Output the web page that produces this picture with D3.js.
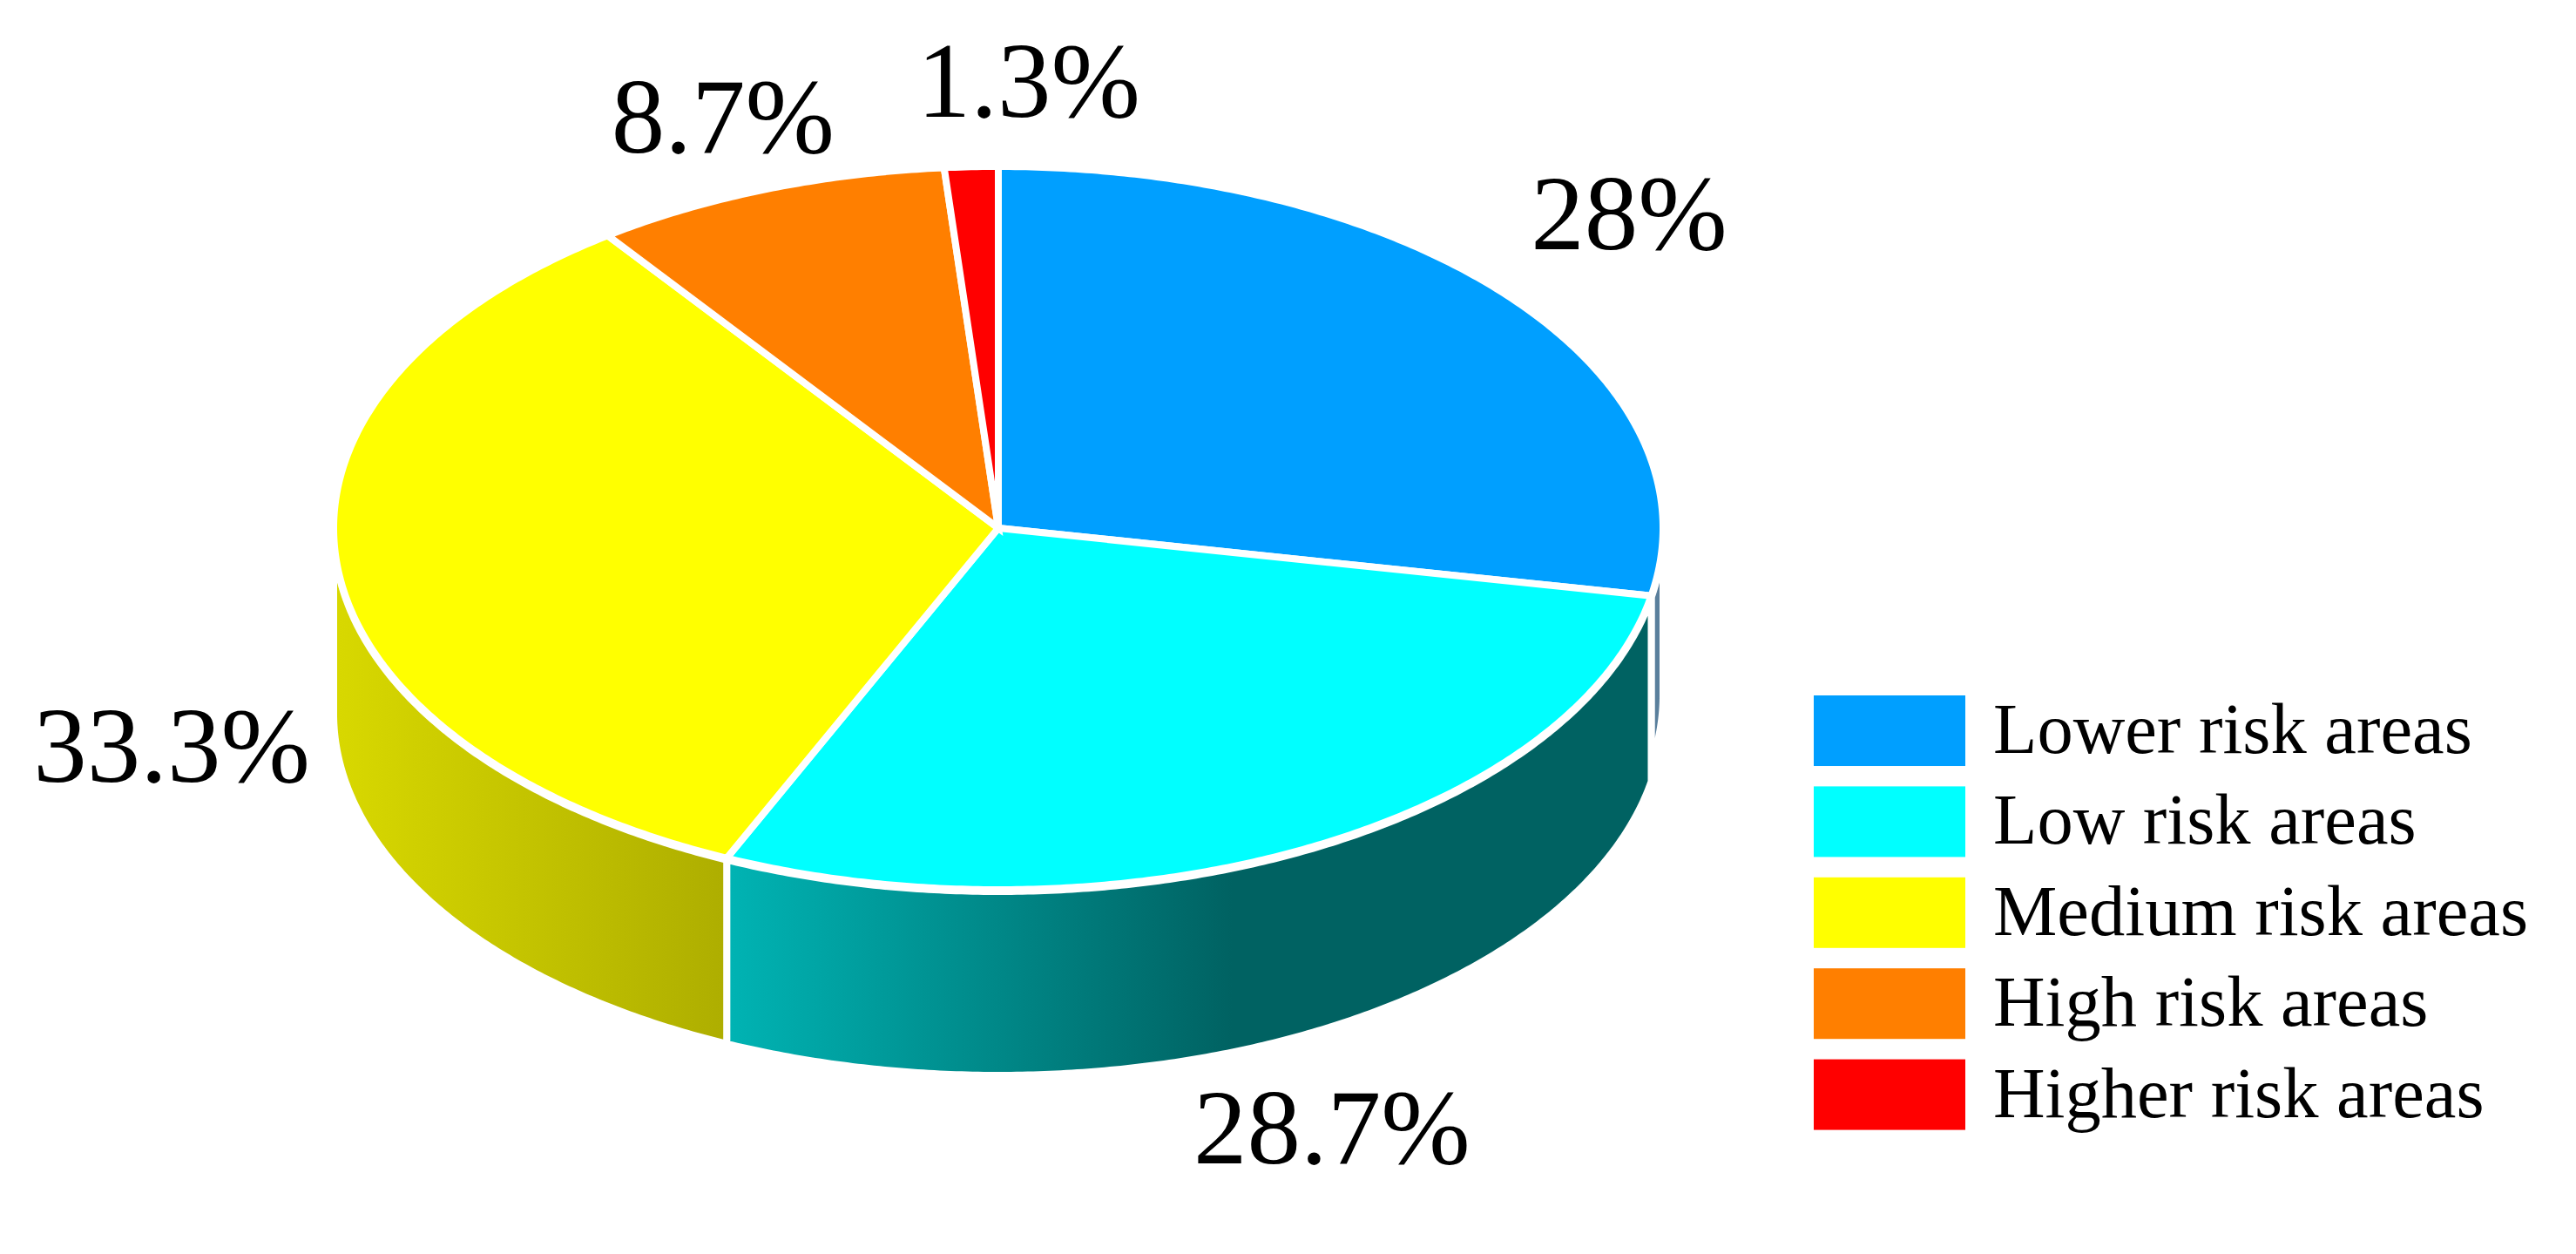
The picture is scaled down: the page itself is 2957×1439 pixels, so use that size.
<!DOCTYPE html>
<html>
<head>
<meta charset="utf-8">
<title>Risk areas</title>
<script src="https://cdn.jsdelivr.net/npm/d3@7"></script>
<style>
    body { margin: 0; background: #fff; }
    text { font-family: "Liberation Serif", serif; fill: #000; }
</style>
</head>
<body>
<div id="chart"></div>
<script>
const categories = ["Lower risk areas", "Low risk areas", "Medium risk areas", "High risk areas", "Higher risk areas"];
const shares = [28, 28.7, 33.3, 8.7, 1.3];
const shareLabels = ["28%", "28.7%", "33.3%", "8.7%", "1.3%"];
const colors = ["#009fff", "#00ffff", "#ffff00", "#ff7f00", "#ff0000"];

const width = 2957, height = 1439;
const pie3d = {cx: 1146, cy: 606, rx: 763, ry: 415, wallGap: 2};
const wallDepth = [190, 211, 211];
const gapWidth = 8;

// nudge of each label from the rim point at the middle of its slice
const labelNudge = [[136, -55], [30, 361], [-190, 248], [-51, -42], [66, -57]];

const svg = d3.select("#chart").append("svg")
    .attr("width", width)
    .attr("height", height);

// unit circle -> tilted pie
const x = d3.scaleLinear().domain([-1, 1]).range([pie3d.cx - pie3d.rx, pie3d.cx + pie3d.rx]);
const y = d3.scaleLinear().domain([-1, 1]).range([pie3d.cy - pie3d.ry, pie3d.cy + pie3d.ry]);

const slices = d3.pie().value(d => d).sort(null)(shares);

const line = d3.line();
const rimX = a => x(Math.sin(a));
const rimY = a => y(-Math.cos(a));

function rim(a0, a1) {
    const n = Math.max(2, Math.ceil((a1 - a0) * 120));
    return d3.range(n + 1).map(i => {
        const a = a0 + (a1 - a0) * i / n;
        return [rimX(a), rimY(a)];
    });
}

// wall gradients, in page space
const defs = svg.append("defs");

function wallGradient(id, from, to, stops) {
    defs.append("linearGradient")
        .attr("id", id)
        .attr("gradientUnits", "userSpaceOnUse")
        .attr("x1", from).attr("x2", to)
        .attr("y1", 0).attr("y2", 0)
        .selectAll("stop")
        .data(stops)
        .join("stop")
        .attr("offset", d => d[0])
        .attr("stop-color", d => d[1]);
}

wallGradient("wall-1", 832, 1891, [[0, "#00b4b4"], [0.55, "#006262"], [1, "#006262"]]);
wallGradient("wall-2", 388, 832, [[0, "#d8d800"], [1, "#aeae00"]]);

const wallFill = ["#5a7f9c", "url(#wall-1)", "url(#wall-2)"];

// only the front half of the rim shows a wall
const walls = slices
    .map((d, i) => ({
        a0: Math.max(d.startAngle, Math.PI / 2),
        a1: Math.min(d.endAngle, Math.PI * 3 / 2),
        i
    }))
    .filter(d => d.a1 > d.a0);

svg.append("g").selectAll("path")
    .data(walls)
    .join("path")
    .attr("d", d => {
        const top = rim(d.a0, d.a1).map(p => [p[0], p[1] + pie3d.wallGap]);
        const bottom = top.map(p => [p[0], p[1] + wallDepth[d.i]]).reverse();
        return line(top.concat(bottom)) + "Z";
    })
    .attr("fill", d => wallFill[d.i])
    .attr("stroke", "#fff")
    .attr("stroke-width", gapWidth);

svg.append("g").selectAll("path")
    .data(slices)
    .join("path")
    .attr("d", d => line([[x(0), y(0)]].concat(rim(d.startAngle, d.endAngle))) + "Z")
    .attr("fill", (d, i) => colors[i])
    .attr("stroke", "#fff")
    .attr("stroke-width", gapWidth)
    .attr("stroke-linejoin", "miter");

svg.append("g").selectAll("text")
    .data(slices)
    .join("text")
    .attr("x", (d, i) => rimX((d.startAngle + d.endAngle) / 2) + labelNudge[i][0])
    .attr("y", (d, i) => rimY((d.startAngle + d.endAngle) / 2) + labelNudge[i][1])
    .attr("text-anchor", "middle")
    .attr("font-size", 123)
    .text((d, i) => shareLabels[i]);

// legend
const legendY = d3.scaleBand()
    .domain(categories)
    .range([798, 1296.6])
    .paddingInner(0.224)
    .paddingOuter(0);

const legend = svg.append("g").selectAll("g")
    .data(categories)
    .join("g")
    .attr("transform", d => `translate(2082,${legendY(d)})`);

legend.append("rect")
    .attr("width", 174)
    .attr("height", legendY.bandwidth())
    .attr("fill", (d, i) => colors[i]);

legend.append("text")
    .attr("x", 206)
    .attr("y", 66)
    .attr("font-size", 82.5)
    .text(d => d);
</script>
</body>
</html>
